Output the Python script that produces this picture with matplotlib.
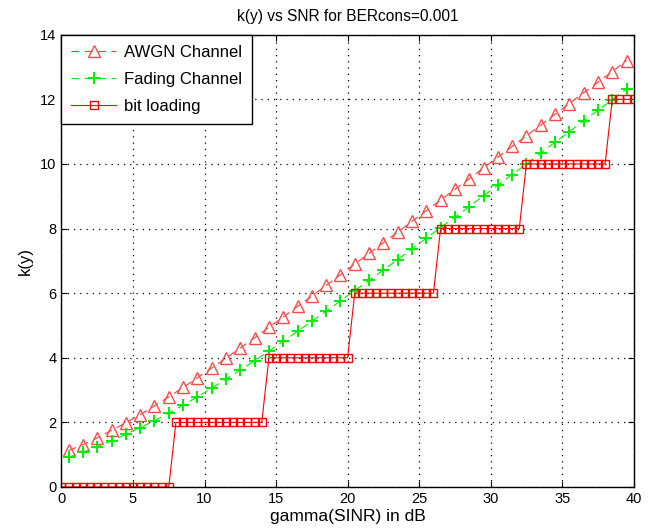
import numpy as np
import matplotlib
matplotlib.use('Agg')
import matplotlib.pyplot as plt

plt.rcParams['font.family'] = ['Liberation Sans', 'DejaVu Sans']

# SNR points of the two channel curves (dB)
snr_db = [0.5, 1.5, 2.5, 3.5, 4.5, 5.5, 6.5, 7.5, 8.5, 9.5,
          10.5, 11.5, 12.5, 13.5, 14.5, 15.5, 16.5, 17.5, 18.5, 19.5,
          20.5, 21.5, 22.5, 23.5, 24.5, 25.5, 26.5, 27.5, 28.5, 29.5,
          30.5, 31.5, 32.5, 33.5, 34.5, 35.5, 36.5, 37.5, 38.5, 39.5]

# k(y)
awgn_k = [1.13, 1.31, 1.52, 1.75, 1.99, 2.24, 2.51, 2.79, 3.08, 3.38,
          3.68, 3.99, 4.30, 4.62, 4.94, 5.26, 5.59, 5.91, 6.24, 6.57,
          6.90, 7.23, 7.56, 7.89, 8.22, 8.55, 8.88, 9.21, 9.54, 9.88,
          10.21, 10.54, 10.87, 11.20, 11.54, 11.87, 12.20, 12.53, 12.86, 13.20]

fading_k = [0.92, 1.07, 1.25, 1.43, 1.63, 1.84, 2.05, 2.29, 2.54, 2.79,
            3.06, 3.34, 3.62, 3.91, 4.21, 4.51, 4.82, 5.13, 5.44, 5.76,
            6.08, 6.40, 6.72, 7.04, 7.37, 7.70, 8.03, 8.35, 8.68, 9.01,
            9.34, 9.67, 10.00, 10.34, 10.67, 11.00, 11.33, 11.66, 11.99, 12.32]

# bit loading: 0..40 dB in 0.5 dB steps, levels and how many points sit on each
bit_x = np.arange(0, 40.01, 0.5)
bit_levels = [0, 2, 4, 6, 8, 10, 12]
bit_counts = [16, 13, 12, 12, 12, 12, 4]
bit_k = np.repeat(bit_levels, bit_counts)

fig = plt.figure(figsize=(6.54, 5.29), dpi=100)
ax = fig.add_axes([0.094, 0.0794, 0.875, 0.855])

dash = (0, (7, 5))
ax.plot(snr_db, awgn_k, linestyle=dash, color='#ff3b3b', lw=0.8, marker='^',
        ms=8, mfc='none', mec='#ff4a4a', mew=1.0, label='AWGN Channel')
ax.plot(snr_db, fading_k, linestyle=dash, color='#00ee00', lw=0.8, marker='+',
        ms=8, mew=1.4, label='Fading Channel')
ax.plot(bit_x, bit_k, '-', color='red', lw=0.8, marker='s',
        ms=5.2, mfc='none', mec='red', mew=1.0, label='bit loading')

ax.set_xlim(0, 40)
ax.set_ylim(0, 14)
ax.set_xticks(range(0, 41, 5))
ax.set_yticks(range(0, 15, 2))
ax.grid(True, color='black', linestyle=(0, (1, 4)), linewidth=0.9)
ax.tick_params(direction='in', labelsize=10.5, length=4, top=True, right=True)
for s in ax.spines.values():
    s.set_linewidth(1.0)

ax.set_title('k(y) vs SNR for BERcons=0.001', fontsize=11.2, pad=10)
ax.set_xlabel('gamma(SINR) in dB', fontsize=12.5, labelpad=2)
ax.set_ylabel('k(y)', fontsize=12, labelpad=5)

leg = ax.legend(loc='upper left', fontsize=12, fancybox=False,
                edgecolor='black', framealpha=1, borderaxespad=0,
                handlelength=2.7, labelspacing=0.72, borderpad=0.6,
                handletextpad=0.45)
leg.get_frame().set_linewidth(1.0)

fig.savefig('out.png', dpi=100)
